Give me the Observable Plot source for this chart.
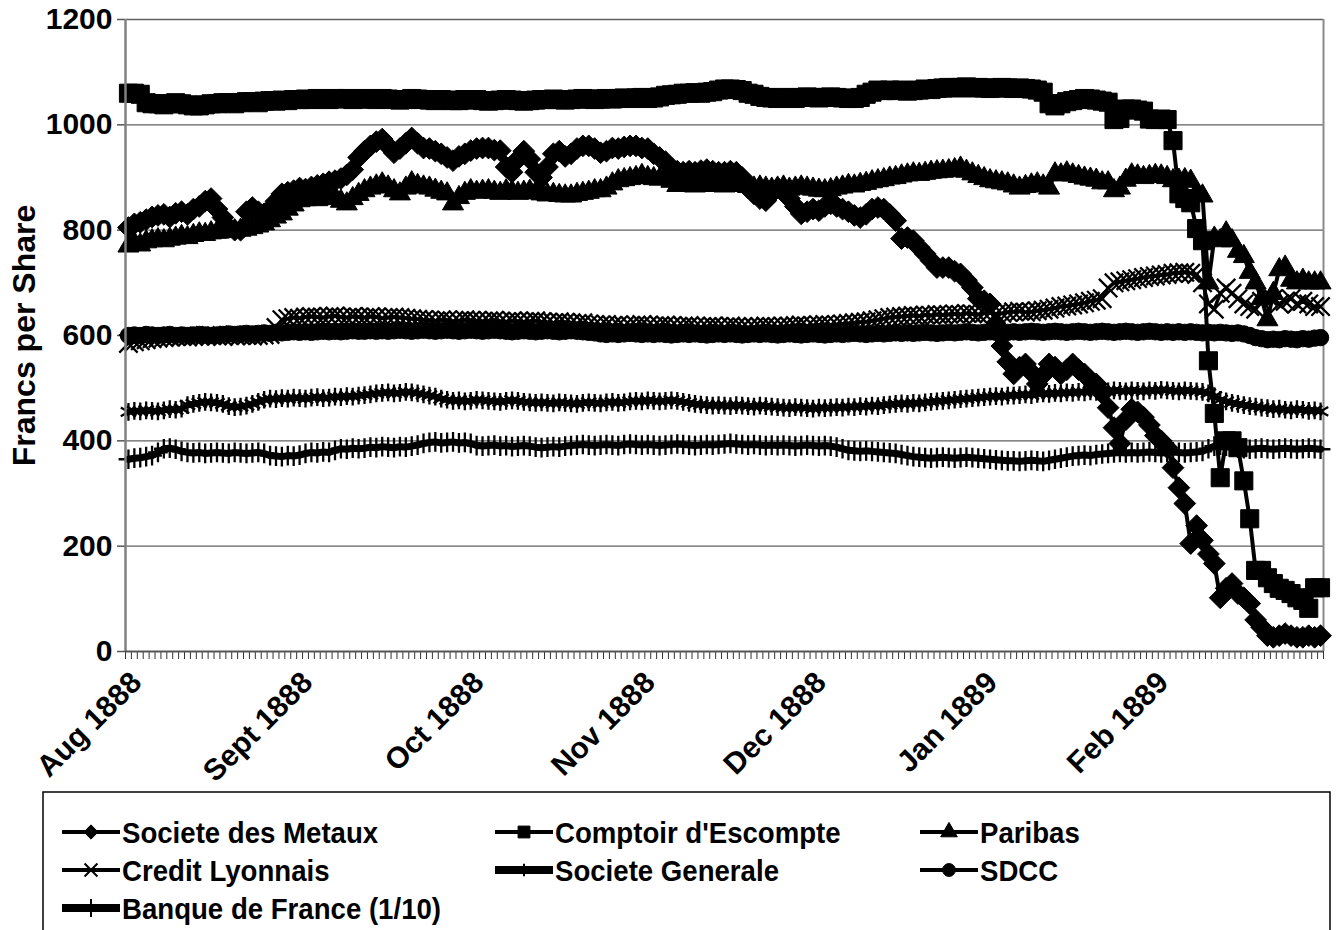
<!DOCTYPE html>
<html><head><meta charset="utf-8">
<script src="https://cdn.jsdelivr.net/npm/d3@7"></script>
<script src="https://cdn.jsdelivr.net/npm/@observablehq/plot@0.6"></script>
<style>
html,body{margin:0;padding:0;background:#fff;overflow:hidden;}
#chart svg,#legend svg{display:block}
</style></head><body>
<div id="chart"></div>
<div id="legend"></div>
<script>
// ---- categories / tick labels ----
const monthLabels = ["Aug 1888","Sept 1888","Oct 1888","Nov 1888","Dec 1888","Jan 1889","Feb 1889"];
const monthStart = [0,29,58,87,116,145,174];
const yTicks = [0,200,400,600,800,1000,1200];

// ---- series values (francs per share, one value per trading day) ----
const metaux = [
805,812,815,820,825,828,830,825,832,835,
830,840,845,855,860,840,824,805,800,800,
835,843,835,831,840,855,869,872,875,880,
878,882,885,888,892,894,898,905,915,938,
950,960,968,973,960,947,955,965,975,965,
956,955,950,945,938,932,940,945,951,955,
956,956,952,951,920,910,935,950,935,910,
900,920,945,950,940,945,955,960,960,955,
947,950,956,955,958,960,960,956,955,945,
938,930,918,912,910,912,910,913,915,912,
910,910,912,910,900,880,869,860,856,870,
880,875,860,845,831,835,840,837,845,850,
845,840,835,828,824,830,840,843,840,830,
818,784,786,780,767,755,742,729,729,729,
722,717,705,691,670,666,660,620,580,550,
527,540,546,530,508,525,546,540,527,535,
546,535,527,515,508,490,463,425,395,440,
460,455,445,430,410,400,387,349,311,281,
205,239,211,185,167,102,120,129,110,102,
91,60,46,30,27,30,34,30,27,27,30,27,30];

const comptoir = [
1060,1060,1058,1042,1040,1040,1038,1040,1042,1040,
1038,1036,1036,1038,1040,1040,1042,1042,1040,1042,
1044,1044,1042,1045,1046,1045,1047,1046,1048,1048,
1049,1048,1050,1049,1048,1050,1049,1050,1048,1049,
1050,1049,1048,1050,1049,1048,1047,1048,1050,1049,
1048,1047,1046,1048,1047,1046,1046,1048,1047,1048,
1046,1045,1046,1047,1048,1047,1046,1045,1046,1047,
1048,1048,1049,1048,1047,1048,1049,1050,1049,1048,
1049,1050,1049,1050,1051,1050,1051,1052,1050,1051,
1053,1056,1057,1058,1060,1060,1061,1060,1062,1063,
1066,1068,1068,1067,1065,1060,1058,1054,1052,1051,
1050,1052,1051,1050,1052,1053,1052,1051,1052,1053,
1052,1051,1050,1050,1052,1058,1062,1066,1065,1066,
1065,1066,1064,1065,1066,1068,1067,1069,1070,1071,
1070,1071,1072,1070,1071,1070,1069,1070,1071,1070,
1069,1070,1069,1068,1066,1062,1040,1036,1040,1044,
1046,1048,1050,1049,1047,1045,1043,1010,1012,1030,
1030,1028,1026,1011,1010,1011,1010,970,869,860,
852,803,780,552,452,330,400,400,387,324,
252,154,154,140,129,120,116,110,102,97,82,121,121];

const paribas = [
770,775,772,778,780,782,780,783,785,788,
786,790,793,792,795,796,798,800,799,800,
802,805,808,812,818,825,831,840,848,856,
858,860,858,861,860,862,855,850,860,868,
875,880,884,888,882,875,869,880,890,885,
882,880,876,872,869,850,862,870,875,872,
874,875,872,870,875,873,870,872,874,871,
869,867,868,866,865,865,868,870,872,875,
875,880,888,894,896,898,900,904,900,898,
897,900,893,885,888,886,884,885,887,885,
886,884,885,887,885,883,880,882,880,878,
880,882,878,880,882,880,878,876,875,877,
880,882,885,884,887,889,892,894,896,899,
900,903,905,907,906,908,910,911,912,913,
915,918,912,907,902,898,894,892,890,888,
884,880,883,886,888,884,880,907,905,909,
905,902,899,897,895,890,890,875,880,895,
905,903,900,902,904,903,900,894,895,896,
893,870,865,700,785,780,795,780,760,750,
720,700,670,630,680,725,730,705,700,705,700,700,700];

const credit = [
585,588,590,592,594,595,596,597,598,598,
597,598,599,600,600,599,598,600,601,600,
600,599,600,601,602,615,630,632,634,633,
635,636,635,634,636,637,635,634,636,635,
634,636,635,633,634,635,634,633,632,631,
630,629,628,630,629,627,628,630,629,628,
627,628,629,627,626,628,627,626,627,628,
626,625,624,626,625,624,623,624,622,621,
620,621,619,620,618,619,620,621,619,618,
619,620,618,617,618,619,617,616,617,618,
617,616,618,617,616,615,616,617,618,617,
616,617,618,619,620,618,619,620,621,620,
621,622,623,624,625,626,628,630,632,634,
635,636,637,638,637,639,638,640,639,640,
641,640,642,641,640,642,643,641,642,644,
645,646,644,645,647,648,650,652,655,656,
658,660,662,665,667,670,690,700,702,704,
706,708,710,712,713,715,716,718,719,720,
718,716,700,660,650,680,690,680,670,660,
655,650,665,675,670,660,665,670,660,665,660,655,655];

const socgen = [
455,457,456,458,457,456,458,460,459,461,
468,470,472,474,473,472,470,466,464,465,
467,470,474,478,480,479,481,480,482,481,
480,482,483,481,482,484,483,485,484,486,
487,488,490,491,492,490,491,493,492,490,
488,486,484,480,478,476,477,475,476,478,
477,476,475,474,476,477,476,474,473,472,
473,472,471,473,472,471,470,472,473,472,
471,473,474,472,473,475,476,475,477,476,
475,476,477,476,474,472,470,469,468,467,
468,467,466,468,467,466,465,467,466,465,
464,463,462,464,463,462,461,463,462,463,
464,463,465,464,466,465,467,466,468,469,
470,471,470,472,471,473,474,475,476,477,
478,479,480,481,482,483,484,485,484,486,
486,487,488,487,489,490,489,491,490,492,
491,493,492,494,493,495,494,496,495,494,
496,495,494,496,495,497,496,495,494,496,
495,494,493,490,485,478,475,472,470,468,
466,465,463,462,460,461,459,458,460,459,457,458,456];

const sdcc = [
600,601,600,602,601,600,601,602,600,601,
600,601,602,601,600,601,602,603,602,603,
604,603,604,605,604,606,605,606,607,606,
607,606,607,608,607,608,607,608,609,608,
608,609,608,609,608,609,610,609,608,609,
610,609,608,609,610,609,608,609,610,609,
608,609,610,609,608,607,608,609,608,607,
608,609,608,607,608,609,608,607,606,605,
603,602,603,602,603,604,603,602,603,602,
603,602,601,602,603,602,603,602,601,602,
603,602,603,602,601,602,603,602,603,602,
601,602,603,602,601,602,603,602,601,602,
603,602,603,604,603,602,603,604,603,604,
605,604,605,604,605,606,605,604,605,606,
605,606,607,606,605,606,607,606,607,606,
607,606,607,608,607,606,607,608,607,606,
607,608,607,606,607,608,607,606,607,608,
607,606,607,608,607,606,607,606,607,606,
607,606,605,606,605,606,605,604,605,603,
600,596,594,592,593,592,594,593,592,594,593,595,596];

const bdf = [
365,367,368,370,372,378,385,386,384,380,
378,377,378,376,377,378,377,376,378,377,
376,377,378,376,372,371,370,372,371,373,
376,378,377,379,378,382,385,384,386,385,
386,388,387,389,388,387,389,388,390,392,
395,397,398,396,397,398,396,397,395,391,
390,391,392,390,391,389,390,391,390,388,
387,388,389,388,390,391,392,393,392,391,
392,393,392,391,393,394,393,392,393,392,
391,392,393,394,393,392,391,392,393,392,
393,394,395,394,393,392,393,392,391,392,
391,392,391,390,391,392,391,390,391,390,
388,385,382,381,380,381,380,379,378,377,
376,374,372,370,369,368,367,368,369,368,
367,368,369,368,367,366,365,364,363,362,
362,361,362,363,362,361,363,365,367,369,
371,372,373,372,374,375,376,377,378,377,
378,377,378,379,378,377,378,379,378,377,
378,379,380,385,390,392,390,388,386,385,
384,385,386,385,384,385,386,385,384,385,386,385,384];

const seriesNames = ["Societe des Metaux","Comptoir d'Escompte","Paribas","Credit Lyonnais","Societe Generale","SDCC","Banque de France (1/10)"];
const seriesValues = [metaux, comptoir, paribas, credit, socgen, sdcc, bdf];

// ---- styles ----
const styles = [
  {symbol:"diamond2", d3sym:d3.symbolDiamond2, r:9.8, filled:true,  lw:4,   legW:4, legSize:130},
  {symbol:"square",   d3sym:d3.symbolSquare,   r:10.2, filled:true, lw:4,   legW:4, legSize:140},
  {symbol:"triangle", d3sym:d3.symbolTriangle, r:7.8, filled:true,  lw:4,   legW:4, legSize:120},
  {symbol:"times",    d3sym:d3.symbolTimes,    r:8.4, filled:false, lw:3.5, legW:4, legSize:110},
  {symbol:"asterisk", d3sym:d3.symbolAsterisk, r:8.4, filled:false, lw:6,   legW:8, legSize:110},
  {symbol:"circle",   d3sym:d3.symbolCircle,   r:8.2, filled:true,  lw:4,   legW:4, legSize:130},
  {symbol:"plus",     d3sym:d3.symbolPlus,     r:6.4, filled:false, lw:7,   legW:8, legSize:110}
];

const N = comptoir.length;
seriesValues.forEach((v,k)=>{ if (v.length !== N) throw new Error(seriesNames[k]+" has "+v.length+" values, expected "+N); });

const boundaries = d3.range(N + 1).map(k => k - 0.5);

const seriesMarks = seriesValues.flatMap((vals, k) => {
  const s = styles[k];
  const data = vals.map((v, i) => ({i, v}));
  return [
    Plot.line(data, {x:"i", y:"v", stroke:"black", strokeWidth:s.lw, strokeLinejoin:"round"}),
    Plot.dot(data, {x:"i", y:"v", symbol:s.symbol, r:s.r,
      fill: s.filled ? "black" : "none",
      stroke: "black", strokeWidth: s.filled ? 1 : 2.3})
  ];
});

const chart = Plot.plot({
  width: 1341,
  height: 790,
  marginLeft: 125,
  marginRight: 18,
  marginTop: 19,
  marginBottom: 139,
  style: {fontFamily: "'Liberation Sans', Arial, sans-serif", fontWeight: "bold", background: "white", color: "black"},
  x: {type: "linear", domain: [-0.5, N - 0.5]},
  y: {domain: [0, 1200]},
  marks: [
    Plot.gridY(yTicks.filter(d => d > 0), {stroke: "#606060", strokeOpacity: 1, strokeWidth: 1.4}),
    Plot.ruleX([N - 0.5], {stroke: "#8a8a8a", strokeWidth: 2}),
    Plot.axisY(yTicks, {tickSize: 8, tickPadding: 5, fontSize: 30, fontWeight: "bold", label: null,
      tickFormat: d => String(d), stroke: "#555", strokeWidth: 1.5}),
    Plot.axisX(boundaries, {tickSize: 8, tickFormat: () => "", label: null, stroke: "#333", strokeWidth: 1}),
    Plot.axisX(monthStart, {tickSize: 0, tickPadding: 26, dx: 8, tickRotate: -45, fontSize: 30, fontWeight: "bold",
      tickFormat: d => monthLabels[monthStart.indexOf(d)], label: null}),
    Plot.text(["Francs per Share"], {frameAnchor: "left", dx: -101, rotate: -90, textAnchor: "middle",
      fontSize: 32, fontWeight: "bold"}),
    ...seriesMarks,
    Plot.ruleX([-0.5], {stroke: "#808080", strokeWidth: 2.5}),
    Plot.ruleY([0], {stroke: "#555", strokeWidth: 2})
  ]
});
document.getElementById("chart").appendChild(chart);

// ---- legend (below the chart) ----
const leg = d3.select("#legend").append("svg").attr("width", 1341).attr("height", 140)
  .style("font-family", "'Liberation Sans', Arial, sans-serif").style("font-weight", "bold");
leg.append("rect").attr("x", 43).attr("y", 2).attr("width", 1287).attr("height", 200)
  .attr("fill", "none").attr("stroke", "black").attr("stroke-width", 1.5);
const colX = [62, 495, 920];
const rowY = [42, 80, 118];
seriesNames.forEach((name, k) => {
  const s = styles[k];
  const cx = colX[k % 3], cy = rowY[Math.floor(k / 3)];
  const g = leg.append("g");
  g.append("line").attr("x1", cx).attr("x2", cx + 58).attr("y1", cy).attr("y2", cy)
    .attr("stroke", "black").attr("stroke-width", s.legW);
  g.append("path").attr("d", d3.symbol(s.d3sym, s.legSize)())
    .attr("transform", `translate(${cx + 29},${cy})`)
    .attr("fill", s.filled ? "black" : "none").attr("stroke", "black").attr("stroke-width", s.filled ? 1 : 2);
  const t = g.append("text").attr("x", cx + 60).attr("y", cy).attr("dy", "0.36em")
    .attr("font-size", 30).text(name);
  const w = t.node().getComputedTextLength();
  if (w > 0) t.attr("textLength", w * 0.92).attr("lengthAdjust", "spacingAndGlyphs");
});
</script>
</body></html>
